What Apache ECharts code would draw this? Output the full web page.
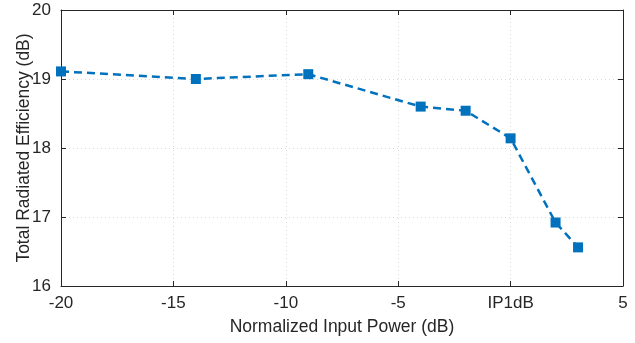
<!DOCTYPE html>
<html><head><meta charset="utf-8">
<script src="https://cdn.jsdelivr.net/npm/echarts@6/dist/echarts.min.js"></script>
<style>html,body{margin:0;padding:0;background:#fff}#c{width:635px;height:343px}</style>
</head><body><div id="c"></div>
<script>
const inputPower = [-20, -14, -9, -4, -2, 0, 2, 3];
const efficiency = [19.11, 19.0, 19.07, 18.6, 18.54, 18.14, 16.92, 16.56];
const xTicks = {"-20": "-20", "-15": "-15", "-10": "-10", "-5": "-5", "0": "IP1dB", "5": "5"};
const xName = "Normalized Input Power (dB)";
const yName = "Total Radiated Efficiency (dB)";

const font = "'Liberation Sans', Arial, Helvetica, sans-serif";
const chart = echarts.init(document.getElementById('c'));
const axisLine = {show: true, onZero: false, lineStyle: {color: '#262626', width: 1}};
const tick = {show: true, inside: true, length: 5, lineStyle: {color: '#262626'}};
const grid = {show: true, lineStyle: {color: '#d9d9d9', type: [1, 3], width: 1}};
chart.setOption({
  animation: false,
  grid: {left: 61, right: 12, top: 10, bottom: 57, show: false, containLabel: false, outerBoundsMode: 'none'},
  xAxis: [{
    type: 'value', min: -20, max: 5, interval: 5,
    name: xName, nameLocation: 'middle', nameGap: 32, nameMoveOverlap: false,
    nameTextStyle: {fontFamily: font, fontSize: 17.5, color: '#262626'},
    axisLine: axisLine, axisTick: tick,
    axisLabel: {fontFamily: font, fontSize: 17, color: '#262626', margin: 9,
      formatter: v => xTicks[String(v)] ?? String(v)},
    splitLine: grid
  }, {
    type: 'value', min: -20, max: 5, interval: 5, position: 'top',
    axisLine: axisLine, axisTick: tick,
    axisLabel: {show: false}, splitLine: {show: false}
  }],
  yAxis: [{
    type: 'value', min: 16, max: 20, interval: 1,
    name: yName, nameLocation: 'middle', nameGap: 28, nameMoveOverlap: false,
    nameTextStyle: {fontFamily: font, fontSize: 17.5, color: '#262626'},
    axisLine: axisLine, axisTick: tick,
    axisLabel: {fontFamily: font, fontSize: 17, color: '#262626', margin: 10},
    splitLine: grid
  }, {
    type: 'value', min: 16, max: 20, interval: 1, position: 'right',
    axisLine: axisLine, axisTick: tick,
    axisLabel: {show: false}, splitLine: {show: false}
  }],
  series: [{
    type: 'line',
    data: inputPower.map((x, i) => [x, efficiency[i]]),
    symbol: 'rect', symbolSize: 10,
    itemStyle: {color: '#0072BD'},
    lineStyle: {color: '#0072BD', width: 2.5, type: [8, 5]},
    clip: false
  }]
});
</script></body></html>
